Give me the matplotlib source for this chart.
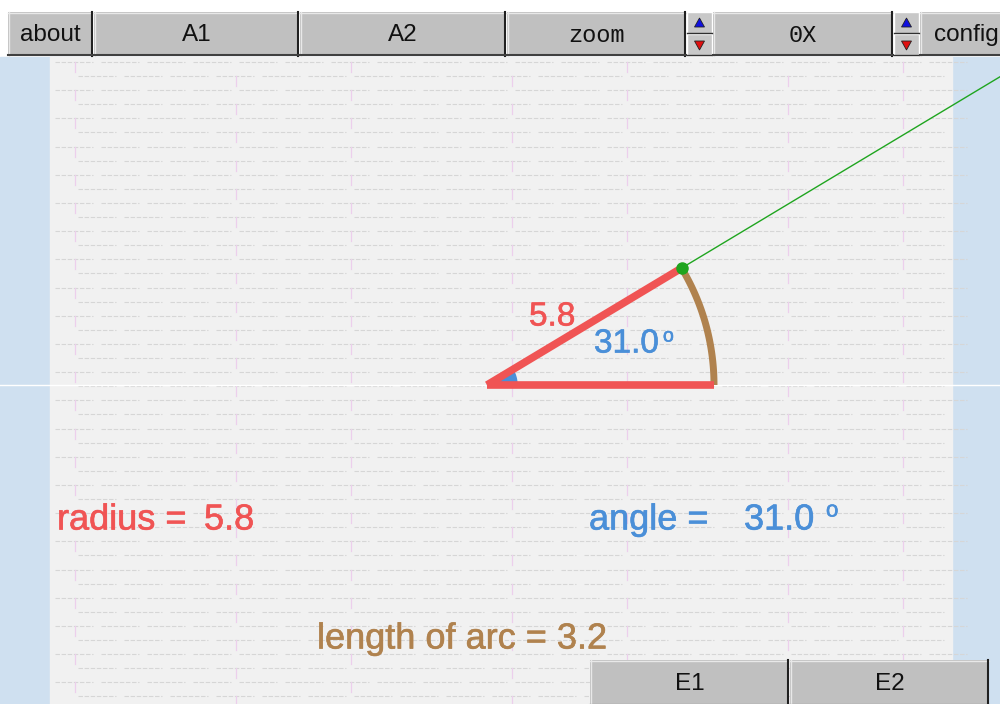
import numpy as np
import matplotlib
matplotlib.use("Agg")
import matplotlib.pyplot as plt
import matplotlib.patheffects as pe
from matplotlib.patches import Rectangle, Polygon

# ---- data ----
radius = 5.8
angle_deg = 31.0
arc_length = 3.2
top_buttons = ["about", "A1", "A2", "zoom", "0X", "config"]
bottom_buttons = ["E1", "E2"]

W, H = 1000, 704
fig = plt.figure(figsize=(W / 100, H / 100), dpi=100)
ax = fig.add_axes([0, 0, 1, 1])
ax.set_xlim(0, W)
ax.set_ylim(H, 0)
ax.axis("off")

SANS = "Liberation Sans"
MONO = "Liberation Mono"
RED = "#f05454"
BLUE = "#4a8fd8"
BROWN = "#b0824e"
GREEN = "#1fa51f"
FS = 24
FS2 = 26


def thick(col):
    return [pe.withStroke(linewidth=0.45, foreground=col)]


# background
ax.add_patch(Rectangle((0, 0), W, H, color="#ffffff", zorder=0))
ax.add_patch(Rectangle((0, 57), W, H - 57, color="#cfe0f0", zorder=0))
ax.add_patch(Rectangle((50, 57), 902, H - 57, color="#f1f1f1", zorder=0))

# faint brick pattern
for i, yy in enumerate(np.arange(62, H, 14.1)):
    off = (i % 2) * 23
    xs = np.arange(55 + off, 950, 46)
    for x0 in xs:
        ax.plot([x0, x0 + 38], [yy, yy], color="#d6d6d6", lw=0.8, ls=(0, (4, 1.5)), zorder=1)
    for k, x0 in enumerate(xs[::3]):
        if (k + i) % 2 == 0:
            ax.plot([x0 + 20, x0 + 20], [yy, yy + 10], color="#eccfec", lw=0.9, zorder=1)

# horizontal axis line
ax.plot([0, W], [385, 385], color="#ffffff", lw=1.0, zorder=2)

# geometry
ox, oy = 487, 385
scale = 227 / 5.8  # pixels per unit
r_px = radius * scale
th = np.radians(angle_deg)
px, py = ox + r_px * np.cos(th), oy - r_px * np.sin(th)

# green extension line
t_end = (W - ox) / np.cos(th)
ax.plot([px, ox + t_end * np.cos(th)], [py, oy - t_end * np.sin(th)],
        color=GREEN, lw=1.0, zorder=3)

# small blue angle wedge
a = np.linspace(0, th, 30)
wr = 30
wx = np.concatenate([[ox], ox + wr * np.cos(a)])
wy = np.concatenate([[oy], oy - wr * np.sin(a)])
ax.add_patch(Polygon(np.column_stack([wx, wy]), closed=True, color=BLUE, zorder=4))

# arc
aa = np.linspace(0, th, 80)
ax.plot(ox + r_px * np.cos(aa), oy - r_px * np.sin(aa), color=BROWN, lw=5,
        solid_capstyle="butt", zorder=5)

# radii
ax.plot([ox, ox + r_px], [oy, oy], color=RED, lw=5.5, solid_capstyle="butt", zorder=6)
ax.plot([ox, px], [oy, py], color=RED, lw=5.5, solid_capstyle="butt", zorder=6)

# point
ax.plot([px], [py], "o", color=GREEN, ms=8, zorder=7)

# labels on figure
ax.text(529, 317, f"{radius:.1f}", color=RED, fontsize=FS, family=SANS,
        ha="left", va="center", zorder=8, path_effects=thick(RED))
ax.text(594, 344, f"{angle_deg:.1f}", color=BLUE, fontsize=FS, family=SANS,
        ha="left", va="center", zorder=8, path_effects=thick(BLUE))
ax.text(663, 337, "o", color=BLUE, fontsize=14, family=SANS,
        ha="left", va="center", zorder=8, path_effects=thick(BLUE))

ax.text(57, 520, "radius =", color=RED, fontsize=FS2, family=SANS,
        ha="left", va="center", zorder=8, path_effects=thick(RED))
ax.text(204, 520, f"{radius:.1f}", color=RED, fontsize=FS2, family=SANS,
        ha="left", va="center", zorder=8, path_effects=thick(RED))
ax.text(589, 520, "angle =", color=BLUE, fontsize=FS2, family=SANS,
        ha="left", va="center", zorder=8, path_effects=thick(BLUE))
ax.text(744, 520, f"{angle_deg:.1f}", color=BLUE, fontsize=FS2, family=SANS,
        ha="left", va="center", zorder=8, path_effects=thick(BLUE))
ax.text(826, 511, "o", color=BLUE, fontsize=16, family=SANS,
        ha="left", va="center", zorder=8, path_effects=thick(BLUE))
ax.text(317, 639, f"length of arc = {arc_length:.1f}", color=BROWN, fontsize=FS2,
        family=SANS, ha="left", va="center", zorder=8, path_effects=thick(BROWN))


def button(x0, x1, y0, y1, label, family=SANS, size=17.5):
    ax.add_patch(Rectangle((x0, y0), x1 - x0, y1 - y0, facecolor="#c0c0c0",
                           edgecolor="none", zorder=10))
    ax.plot([x0, x1], [y0 + 0.5, y0 + 0.5], color="#e8e8e8", lw=1, zorder=11)
    ax.plot([x0 + 0.5, x0 + 0.5], [y0, y1], color="#e8e8e8", lw=1, zorder=11)
    ax.plot([x1 - 1, x1 - 1], [y0, y1], color="#202020", lw=1.5, zorder=11)
    ax.plot([x0, x1], [y1 - 1, y1 - 1], color="#404040", lw=1.5, zorder=11)
    ax.text((x0 + x1) / 2, (y0 + y1) / 2 + 1, label, fontsize=size, family=family,
            ha="center", va="center", color="#111111", zorder=12)


def spinner(x0, x1, y0, y1):
    ym = (y0 + y1) / 2
    for (a0, a1, col, up) in [(y0, ym, "#1010e0", True), (ym, y1, "#e01010", False)]:
        ax.add_patch(Rectangle((x0, a0), x1 - x0, a1 - a0, facecolor="#c8c8c8",
                               edgecolor="#ffffff", lw=1, zorder=10))
        cx = (x0 + x1) / 2
        cy = (a0 + a1) / 2
        if up:
            tri = [(cx - 5, cy + 4), (cx + 5, cy + 4), (cx, cy - 5)]
        else:
            tri = [(cx - 5, cy - 4), (cx + 5, cy - 4), (cx, cy + 5)]
        ax.add_patch(Polygon(tri, closed=True, facecolor=col, edgecolor="#222222",
                             lw=0.6, zorder=12))
        ax.plot([x0, x1], [a1 - 1, a1 - 1], color="#303030", lw=1, zorder=11)


# top toolbar
button(8, 93, 12, 56, top_buttons[0])
button(94, 299, 12, 56, top_buttons[1])
button(300, 506, 12, 56, top_buttons[2])
button(507, 686, 12, 56, top_buttons[3], family=MONO, size=17)
spinner(687, 712, 12, 56)
button(713, 893, 12, 56, top_buttons[4], family=MONO, size=17)
spinner(894, 919, 12, 56)
button(920, 1012, 12, 56, top_buttons[5])

# bottom buttons
button(590, 789, 660, 706, bottom_buttons[0])
button(790, 989, 660, 706, bottom_buttons[1])

fig.savefig("out.png", dpi=100)
